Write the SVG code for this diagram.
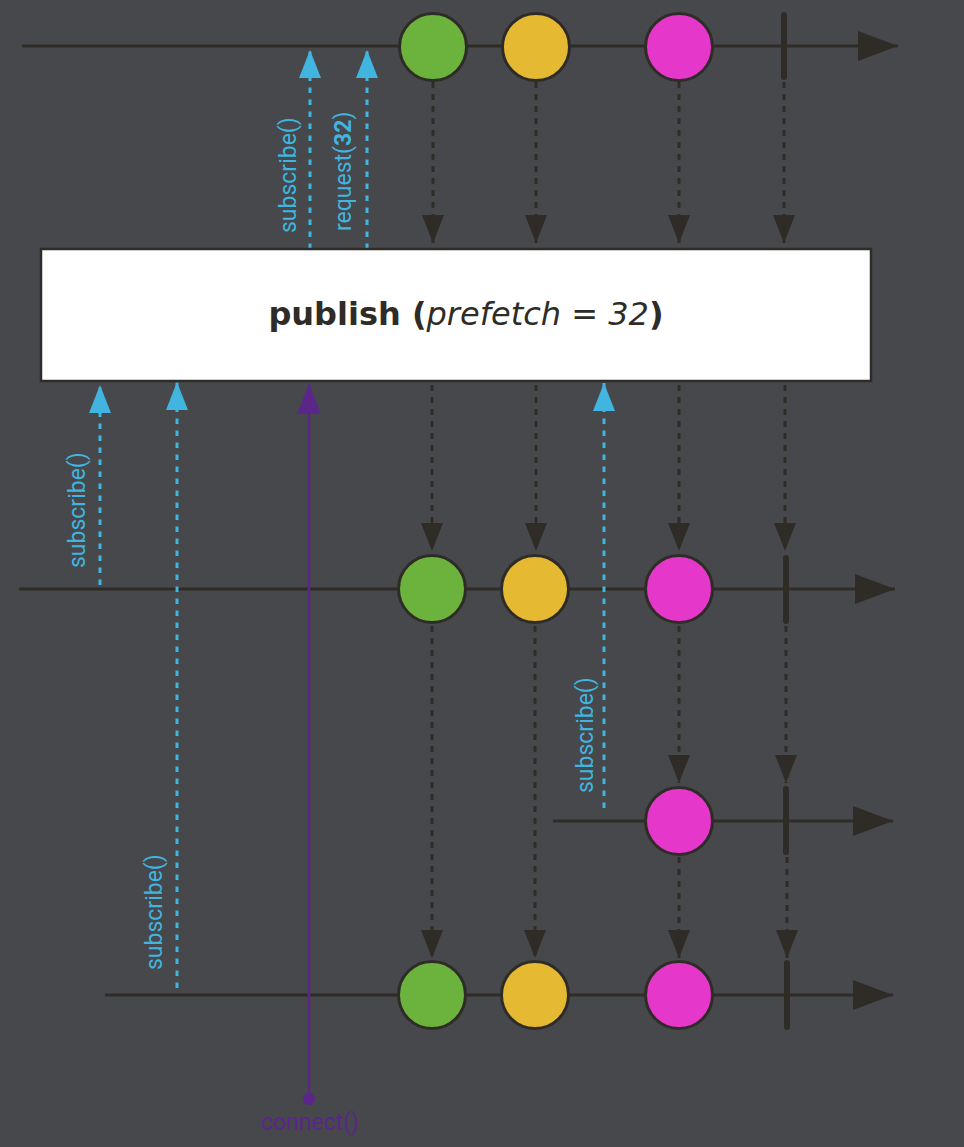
<svg xmlns="http://www.w3.org/2000/svg" width="964" height="1147" viewBox="0 0 964 1147">
<style>
.tl{stroke:#2f2c28;stroke-width:3;fill:none}
.dd{stroke:#2f2c28;stroke-width:3;stroke-dasharray:6 6;fill:none}
.bd{stroke:#41b4df;stroke-width:3;stroke-dasharray:5.5 6.5;fill:none}
.pl{stroke:#5b2689;stroke-width:2.5;fill:none}
.c{stroke:#2f2c28;stroke-width:3}
.g{fill:#6cb33d}.y{fill:#e6b933}.m{fill:#e637cb}
.bar{fill:#2f2c28}
.lbl{font-family:Roboto,"Liberation Sans",sans-serif;font-size:23px;fill:#41b4df}
.title{font-family:"DejaVu Sans",Verdana,sans-serif;font-size:32px;fill:#2f2c28}
</style>
<defs>
<marker id="tlA" markerUnits="userSpaceOnUse" viewBox="0 0 40 30" refX="40" refY="15" markerWidth="40" markerHeight="30" orient="auto"><path d="M0,0L40,15L0,30z" fill="#2f2c28"/></marker>
<marker id="dA" markerUnits="userSpaceOnUse" viewBox="0 0 28 22" refX="28" refY="11" markerWidth="28" markerHeight="22" orient="auto"><path d="M0,0L28,11L0,22z" fill="#2f2c28"/></marker>
<marker id="bA" markerUnits="userSpaceOnUse" viewBox="0 0 28 22" refX="28" refY="11" markerWidth="28" markerHeight="22" orient="auto"><path d="M0,0L28,11L0,22z" fill="#41b4df"/></marker>
<marker id="pA" markerUnits="userSpaceOnUse" viewBox="0 0 30 24" refX="30" refY="12" markerWidth="30" markerHeight="24" orient="auto"><path d="M0,0L30,12L0,24z" fill="#5b2689"/></marker>
</defs>
<rect width="964" height="1147" fill="#46484b"/>
<g id="timelines">
<line class="tl" x1="22" y1="46" x2="898" y2="46" marker-end="url(#tlA)"/>
<line class="tl" x1="19" y1="589" x2="895" y2="589" marker-end="url(#tlA)"/>
<line class="tl" x1="553" y1="821" x2="893" y2="821" marker-end="url(#tlA)"/>
<line class="tl" x1="105" y1="995" x2="893" y2="995" marker-end="url(#tlA)"/>
</g>
<g id="connectors">
<line class="dd" x1="433" y1="82" x2="433" y2="243" marker-end="url(#dA)"/>
<line class="dd" x1="536" y1="82" x2="536" y2="243" marker-end="url(#dA)"/>
<line class="dd" x1="679" y1="82" x2="679" y2="243" marker-end="url(#dA)"/>
<line class="dd" x1="784" y1="82" x2="784" y2="243" marker-end="url(#dA)"/>
<line class="dd" x1="432" y1="385" x2="432" y2="551" marker-end="url(#dA)"/>
<line class="dd" x1="536" y1="385" x2="536" y2="551" marker-end="url(#dA)"/>
<line class="dd" x1="679" y1="385" x2="679" y2="551" marker-end="url(#dA)"/>
<line class="dd" x1="785" y1="385" x2="785" y2="551" marker-end="url(#dA)"/>
<line class="dd" x1="679" y1="626" x2="679" y2="783" marker-end="url(#dA)"/>
<line class="dd" x1="786" y1="626" x2="786" y2="783" marker-end="url(#dA)"/>
<line class="dd" x1="432" y1="626" x2="432" y2="958" marker-end="url(#dA)"/>
<line class="dd" x1="535" y1="626" x2="535" y2="958" marker-end="url(#dA)"/>
<line class="dd" x1="679" y1="857" x2="679" y2="958" marker-end="url(#dA)"/>
<line class="dd" x1="787" y1="857" x2="787" y2="958" marker-end="url(#dA)"/>
<line class="bd" x1="310" y1="249" x2="310" y2="50" marker-end="url(#bA)"/>
<line class="bd" x1="367" y1="249" x2="367" y2="50" marker-end="url(#bA)"/>
<line class="bd" x1="100" y1="585" x2="100" y2="385" marker-end="url(#bA)"/>
<line class="bd" x1="177" y1="988" x2="177" y2="382" marker-end="url(#bA)"/>
<line class="bd" x1="604" y1="808" x2="604" y2="383" marker-end="url(#bA)"/>
<line class="pl" x1="309" y1="1099" x2="309" y2="384" marker-end="url(#pA)"/>
<circle cx="309" cy="1099" r="6" fill="#5b2689"/>
<text class="lbl" transform="translate(296,233) rotate(-90)">subscribe()</text>
<text class="lbl" transform="translate(351,231) rotate(-90)">request(<tspan font-weight="bold">32</tspan>)</text>
<text class="lbl" transform="translate(85,568) rotate(-90)">subscribe()</text>
<text class="lbl" transform="translate(593,793) rotate(-90)">subscribe()</text>
<text class="lbl" transform="translate(162,970) rotate(-90)">subscribe()</text>
<text class="lbl" x="310" y="1130" text-anchor="middle" style="fill:#5b2689">connect()</text>
</g>
<g id="publish">
<rect x="41" y="249" width="830" height="132" fill="#ffffff" stroke="#2f2c28" stroke-width="2.5"/>
<text class="title" x="466" y="325" text-anchor="middle"><tspan font-weight="bold">publish (</tspan><tspan font-style="italic">prefetch = 32</tspan><tspan font-weight="bold">)</tspan></text>
</g>
<g id="row1">
<circle class="c g" cx="433" cy="47" r="33.5"/>
<circle class="c y" cx="536" cy="47" r="33.5"/>
<circle class="c m" cx="679" cy="47" r="33.5"/>
<rect class="bar" x="781" y="12" width="6" height="68" rx="3"/>
</g>
<g id="row2">
<circle class="c g" cx="432" cy="589" r="33.5"/>
<circle class="c y" cx="535" cy="589" r="33.5"/>
<circle class="c m" cx="679" cy="589" r="33.5"/>
<rect class="bar" x="783" y="555" width="6" height="69" rx="3"/>
</g>
<g id="row3">
<circle class="c m" cx="679" cy="821" r="33.5"/>
<rect class="bar" x="783" y="786" width="6" height="69" rx="3"/>
</g>
<g id="row4">
<circle class="c g" cx="432" cy="995" r="33.5"/>
<circle class="c y" cx="535" cy="995" r="33.5"/>
<circle class="c m" cx="679" cy="995" r="33.5"/>
<rect class="bar" x="784" y="960" width="6" height="70" rx="3"/>
</g>
</svg>
